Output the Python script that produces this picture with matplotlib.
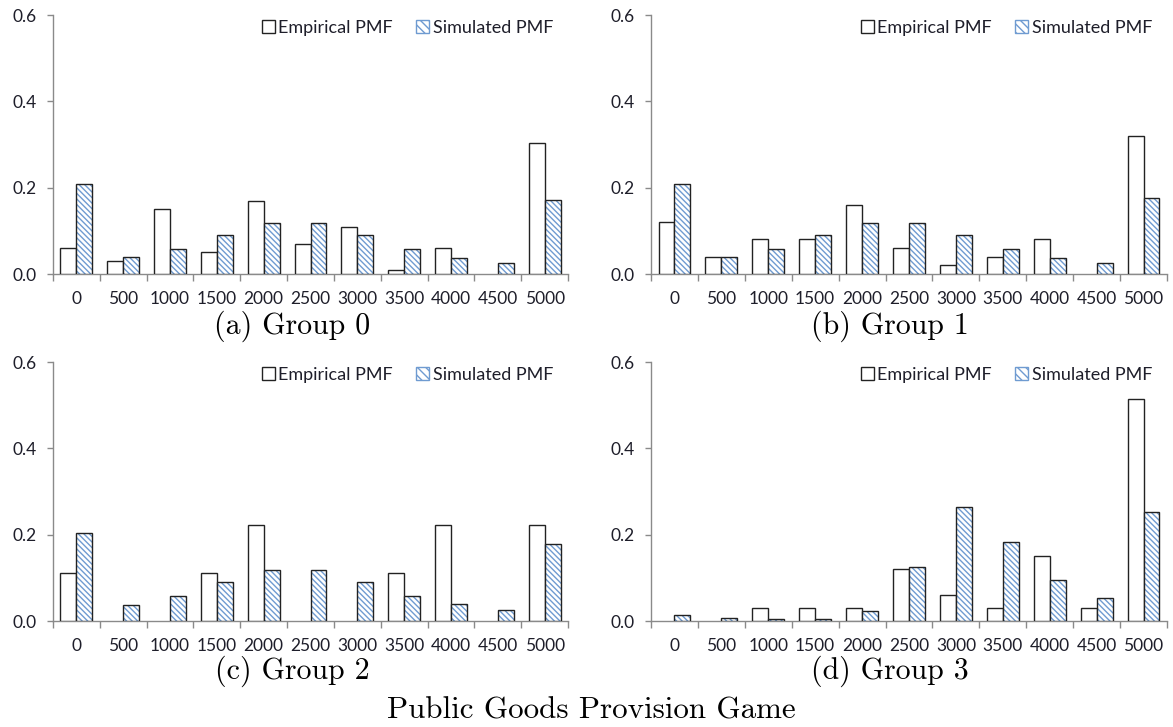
import matplotlib
matplotlib.use("Agg")
import matplotlib.pyplot as plt
from matplotlib.patches import Patch
import numpy as np

categories = ["0", "500", "1000", "1500", "2000", "2500", "3000", "3500", "4000", "4500", "5000"]
y_ticks = [0.0, 0.2, 0.4, 0.6]

emp_g0 = [0.06, 0.03, 0.15, 0.05, 0.17, 0.07, 0.11, 0.01, 0.06, 0.0, 0.304]
sim_g0 = [0.208, 0.039, 0.059, 0.09, 0.118, 0.118, 0.09, 0.059, 0.036, 0.025, 0.171]

emp_g1 = [0.12, 0.04, 0.08, 0.08, 0.16, 0.06, 0.02, 0.04, 0.08, 0.0, 0.32]
sim_g1 = [0.208, 0.039, 0.059, 0.09, 0.118, 0.118, 0.09, 0.059, 0.036, 0.025, 0.175]

emp_g2 = [0.111, 0.0, 0.0, 0.111, 0.222, 0.0, 0.0, 0.111, 0.222, 0.0, 0.222]
sim_g2 = [0.203, 0.037, 0.059, 0.09, 0.119, 0.119, 0.09, 0.059, 0.039, 0.025, 0.178]

emp_g3 = [0.0, 0.0, 0.0303, 0.0303, 0.0303, 0.121, 0.0606, 0.0303, 0.1515, 0.0303, 0.515]
sim_g3 = [0.014, 0.006, 0.005, 0.005, 0.023, 0.124, 0.265, 0.183, 0.096, 0.054, 0.253]

captions = ["(a) Group 0", "(b) Group 1", "(c) Group 2", "(d) Group 3"]
title = "Public Goods Provision Game"
legend_labels = ["Empirical PMF", "Simulated PMF"]

panels = [(emp_g0, sim_g0), (emp_g1, sim_g1), (emp_g2, sim_g2), (emp_g3, sim_g3)]

W, H = 1173, 727
fig = plt.figure(figsize=(W / 100, H / 100), dpi=100)

plt.rcParams['hatch.linewidth'] = 1.0

axes_px = [  # left, top(0.6), right, bottom(0.0)
    (53, 15, 568, 274),
    (651, 15, 1167, 274),
    (53, 362, 568, 621),
    (651, 362, 1167, 621),
]
caption_px = [(292, 326), (890, 326), (292, 671), (890, 671)]

tick_font = dict(family="Lato", size=12.5)
txt_color = "#1e1e2a"
axis_color = "#8a8a8a"
edge_col = "#222222"
bw = 0.34
hatch_col = "#6f9bd1"

for i, ((emp, sim), (l, t, r, b)) in enumerate(zip(panels, axes_px)):
    ax = fig.add_axes([l / W, 1 - b / H, (r - l) / W, (b - t) / H])
    x = np.arange(len(categories))
    emp = np.asarray(emp)
    sim = np.asarray(sim)
    me = emp > 0
    ms = sim > 0
    ax.bar(x[me] - bw, emp[me], width=bw, align="edge", color="white", edgecolor=edge_col,
           linewidth=1.0, zorder=3)
    ax.bar(x[ms], sim[ms], width=bw, align="edge", color="white", edgecolor=hatch_col,
           hatch="\\\\\\\\\\\\", linewidth=0, zorder=3)
    ax.bar(x[ms], sim[ms], width=bw, align="edge", fill=False, edgecolor=edge_col,
           linewidth=1.0, zorder=4)
    ax.set_xlim(-0.5, len(categories) - 0.5)
    ax.set_ylim(0, 0.6)
    for s in ["top", "right"]:
        ax.spines[s].set_visible(False)
    for s in ["left", "bottom"]:
        ax.spines[s].set_color(axis_color)
        ax.spines[s].set_linewidth(1.0)
    ax.set_yticks(y_ticks)
    ax.set_yticklabels([f"{v:.1f}" for v in y_ticks], fontdict=tick_font, color=txt_color)
    ax.tick_params(axis="y", direction="out", length=4, width=1.0, color=axis_color, pad=8)
    ax.set_xticks(np.arange(len(categories) + 1) - 0.5)
    ax.set_xticklabels([])
    ax.tick_params(axis="x", which="major", direction="out", length=5, width=1.0, color=axis_color)
    ax.set_xticks(x, minor=True)
    ax.set_xticklabels(categories, minor=True, fontdict=tick_font, color=txt_color)
    ax.tick_params(axis="x", which="minor", length=0, pad=12)
    handles = [Patch(facecolor="white", edgecolor=edge_col, linewidth=1.0),
               Patch(facecolor="white", edgecolor=hatch_col, hatch="\\\\\\\\", linewidth=1.0)]
    leg = ax.legend(handles, legend_labels, loc="upper right", ncol=2, frameon=False,
                    bbox_to_anchor=(0.985, 1.01), prop=dict(family="Lato", size=13),
                    handlelength=0.7, handleheight=0.7, handletextpad=0.2,
                    columnspacing=1.3, borderaxespad=0.0)
    for txt in leg.get_texts():
        txt.set_color(txt_color)
    cx, cy = caption_px[i]
    fig.text(cx / W, 1 - cy / H, captions[i], family="cmr10", size=21.5,
             ha="center", va="center", color="black")

fig.text(591 / W, 1 - 711 / H, title, family="cmr10", size=22.3,
         ha="center", va="center", color="black")

fig.savefig("out.png", dpi=100)
